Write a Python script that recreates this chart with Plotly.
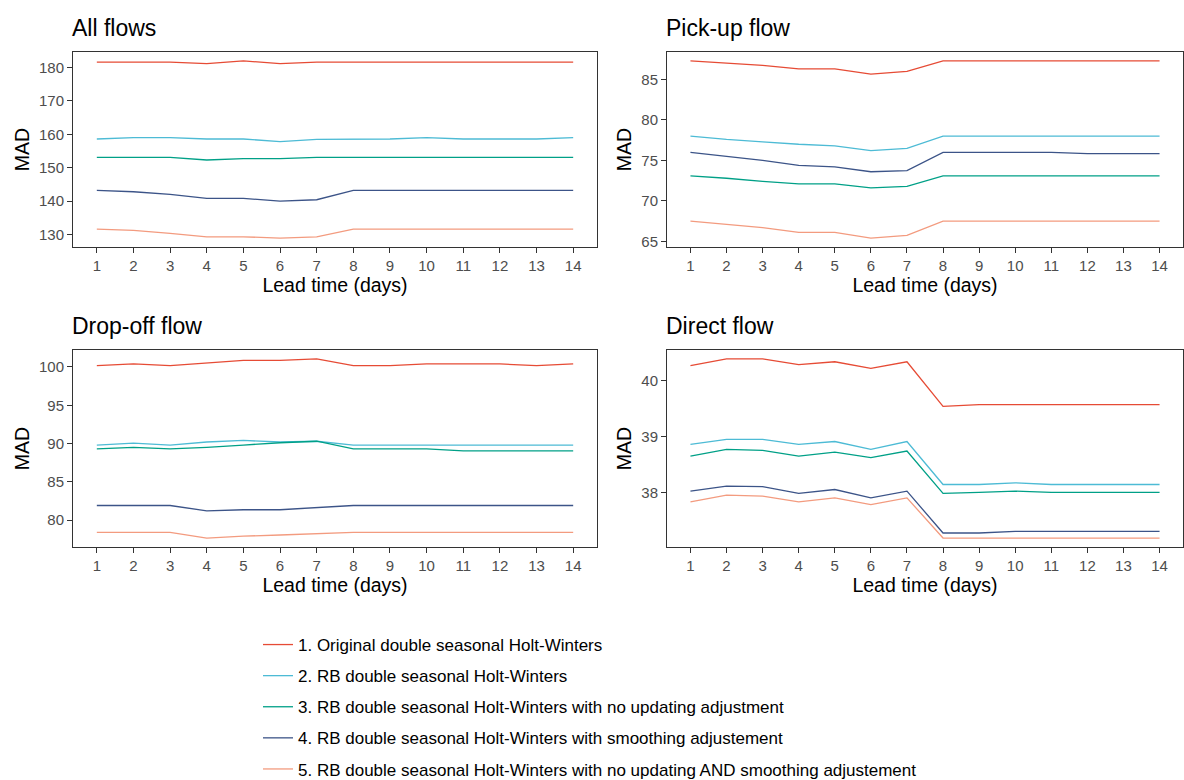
import plotly.graph_objects as go

W, H = 1184, 780
days = list(range(1, 15))

series_names = [
    "1. Original double seasonal Holt-Winters",
    "2. RB double seasonal Holt-Winters",
    "3. RB double seasonal Holt-Winters with no updating adjustment",
    "4. RB double seasonal Holt-Winters with smoothing adjustement",
    "5. RB double seasonal Holt-Winters with no updating AND smoothing adjustement",
]
colors = ["#E64B35", "#4DBBD5", "#00A087", "#3C5488", "#F39B7F"]

# All flows
all_s1 = [181.6, 181.6, 181.6, 181.2, 182.0, 181.2, 181.6, 181.6, 181.6, 181.6, 181.6, 181.6, 181.6, 181.6]
all_s2 = [158.6, 159.0, 159.0, 158.6, 158.6, 157.8, 158.5, 158.6, 158.6, 159.0, 158.6, 158.6, 158.6, 159.0]
all_s3 = [153.1, 153.1, 153.1, 152.3, 152.7, 152.7, 153.1, 153.1, 153.1, 153.1, 153.1, 153.1, 153.1, 153.1]
all_s4 = [143.2, 142.8, 142.0, 140.8, 140.8, 140.0, 140.4, 143.2, 143.2, 143.2, 143.2, 143.2, 143.2, 143.2]
all_s5 = [131.6, 131.2, 130.3, 129.3, 129.3, 128.9, 129.3, 131.6, 131.6, 131.6, 131.6, 131.6, 131.6, 131.6]

# Pick-up flow
pick_s1 = [87.3, 87.0, 86.75, 86.3, 86.3, 85.65, 86.0, 87.3, 87.3, 87.3, 87.3, 87.3, 87.3, 87.3]
pick_s2 = [78.0, 77.6, 77.3, 77.0, 76.8, 76.2, 76.5, 78.0, 78.0, 78.0, 78.0, 78.0, 78.0, 78.0]
pick_s3 = [73.1, 72.8, 72.4, 72.1, 72.1, 71.6, 71.8, 73.1, 73.1, 73.1, 73.1, 73.1, 73.1, 73.1]
pick_s4 = [76.0, 75.5, 75.0, 74.4, 74.2, 73.6, 73.75, 76.0, 76.0, 76.0, 76.0, 75.85, 75.85, 75.85]
pick_s5 = [67.5, 67.1, 66.7, 66.1, 66.1, 65.4, 65.75, 67.5, 67.5, 67.5, 67.5, 67.5, 67.5, 67.5]

# Drop-off flow
drop_s1 = [100.17, 100.4, 100.17, 100.5, 100.87, 100.87, 101.05, 100.17, 100.17, 100.4, 100.4, 100.4, 100.17, 100.4]
drop_s2 = [89.8, 90.05, 89.8, 90.2, 90.4, 90.2, 90.3, 89.8, 89.8, 89.8, 89.8, 89.8, 89.8, 89.8]
drop_s3 = [89.3, 89.5, 89.3, 89.5, 89.8, 90.1, 90.3, 89.3, 89.3, 89.3, 89.05, 89.05, 89.05, 89.05]
drop_s4 = [81.9, 81.9, 81.9, 81.2, 81.35, 81.35, 81.6, 81.9, 81.9, 81.9, 81.9, 81.9, 81.9, 81.9]
drop_s5 = [78.4, 78.4, 78.4, 77.65, 77.9, 78.05, 78.25, 78.4, 78.4, 78.4, 78.4, 78.4, 78.4, 78.4]

# Direct flow
dir_s1 = [40.27, 40.39, 40.39, 40.29, 40.34, 40.22, 40.34, 39.54, 39.57, 39.57, 39.57, 39.57, 39.57, 39.57]
dir_s2 = [38.86, 38.95, 38.95, 38.86, 38.91, 38.77, 38.91, 38.14, 38.14, 38.17, 38.14, 38.14, 38.14, 38.14]
dir_s3 = [38.65, 38.77, 38.75, 38.65, 38.72, 38.62, 38.74, 37.98, 38.0, 38.02, 38.0, 38.0, 38.0, 38.0]
dir_s4 = [38.02, 38.11, 38.1, 37.98, 38.05, 37.9, 38.02, 37.27, 37.27, 37.3, 37.3, 37.3, 37.3, 37.3]
dir_s5 = [37.83, 37.95, 37.93, 37.83, 37.9, 37.78, 37.9, 37.18, 37.18, 37.18, 37.18, 37.18, 37.18, 37.18]

panels = [
    ("All flows", [all_s1, all_s2, all_s3, all_s4, all_s5], 10),
    ("Pick-up flow", [pick_s1, pick_s2, pick_s3, pick_s4, pick_s5], 5),
    ("Drop-off flow", [drop_s1, drop_s2, drop_s3, drop_s4, drop_s5], 5),
    ("Direct flow", [dir_s1, dir_s2, dir_s3, dir_s4, dir_s5], 1),
]

# pixel boxes: (left, right, top, bottom)
boxes = [(73, 597, 52, 247), (667, 1183, 52, 247), (73, 597, 350, 547), (667, 1183, 350, 547)]

FONT = "Liberation Sans, Arial, sans-serif"
fig = go.Figure()
annotations = []
for i, (title, series, dtick) in enumerate(panels):
    ax = "" if i == 0 else str(i + 1)
    for j, ys in enumerate(series):
        fig.add_trace(go.Scatter(
            x=days, y=ys, mode="lines", name=series_names[j],
            line=dict(color=colors[j], width=1.3),
            xaxis="x" + ax, yaxis="y" + ax,
            showlegend=(i == 0), legendgroup="g%d" % j,
        ))
    l, r, t, b = boxes[i]
    allv = [v for s in series for v in s]
    lo, hi = min(allv), max(allv)
    pad = (hi - lo) * 0.05
    xa = dict(
        domain=[l / W, r / W], range=[0.35, 14.65], anchor="y" + ax,
        tickmode="array", tickvals=days, ticktext=[str(d) for d in days],
        ticks="outside", ticklen=5, tickcolor="#333333", tickwidth=1,
        tickfont=dict(size=15, color="#4D4D4D", family=FONT),
        showgrid=False, zeroline=False, showline=True, linecolor="#333333", linewidth=1, mirror=True,
        title=dict(text="Lead time (days)", font=dict(size=19.5, color="black", family=FONT), standoff=5),
    )
    ya = dict(
        domain=[1 - b / H, 1 - t / H], range=[lo - pad, hi + pad], anchor="x" + ax,
        dtick=dtick, tick0=0,
        ticks="outside", ticklen=5, tickcolor="#333333", tickwidth=1,
        tickfont=dict(size=15, color="#4D4D4D", family=FONT),
        showgrid=False, zeroline=False, showline=True, linecolor="#333333", linewidth=1, mirror=True,
        title=dict(text="MAD", font=dict(size=19.5, color="black", family=FONT), standoff=4),
    )
    fig.layout["xaxis" + ax] = xa
    fig.layout["yaxis" + ax] = ya
    annotations.append(dict(
        text=title, x=(l - 3) / W, y=1 - (t - 24) / H, xref="paper", yref="paper",
        xanchor="left", yanchor="middle", showarrow=False,
        font=dict(size=23, color="black", family=FONT),
    ))

fig.update_layout(
    width=W, height=H,
    margin=dict(l=0, r=0, t=0, b=0, autoexpand=False),
    paper_bgcolor="white", plot_bgcolor="white",
    annotations=annotations,
    legend=dict(
        x=258 / W, y=1 - 627 / H, xanchor="left", yanchor="top",
        font=dict(size=17, color="black", family=FONT),
        tracegroupgap=6, bgcolor="rgba(0,0,0,0)",
    ),
    font=dict(family=FONT),
)

fig.write_html("out.html")
